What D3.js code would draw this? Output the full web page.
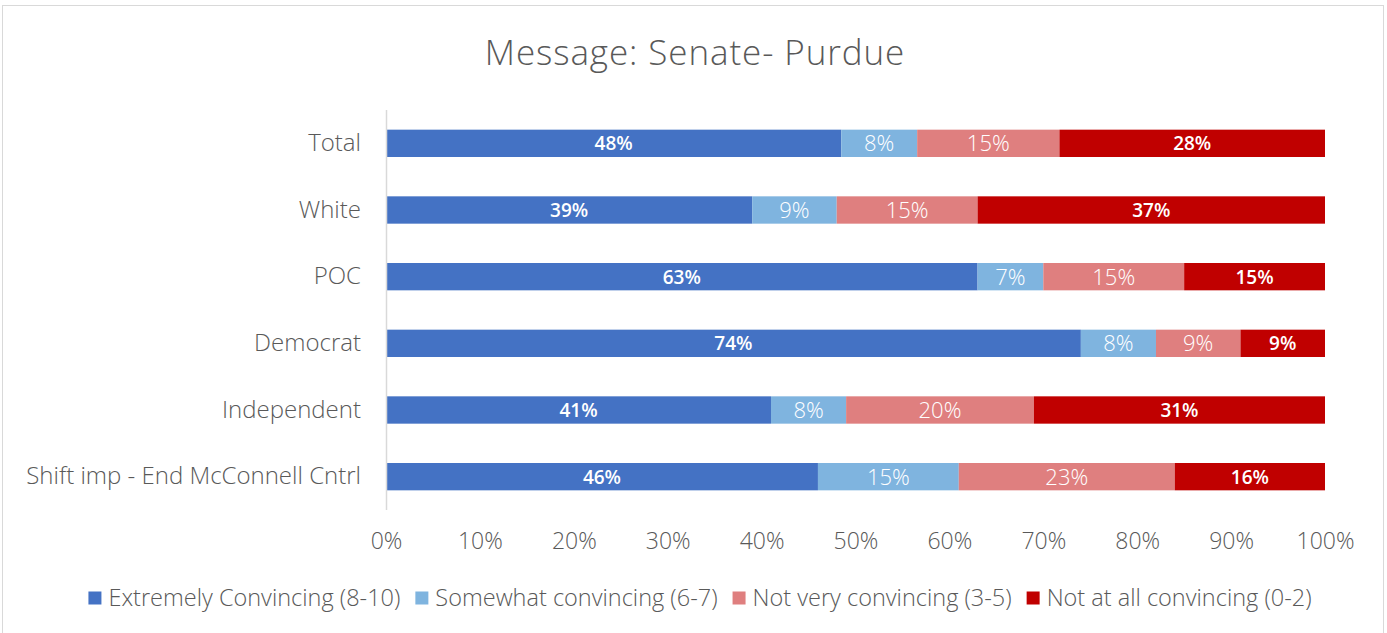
<!DOCTYPE html>
<html>
<head>
<meta charset="utf-8">
<script src="https://cdn.jsdelivr.net/npm/d3@7"></script>
<style>
  html, body { margin: 0; padding: 0; background: #fff; }
  svg { display: block; font-family: "Open Sans", Lato, sans-serif; }
</style>
</head>
<body>
<svg id="chart" width="1387" height="633"></svg>
<script>
const categories = ["Total", "White", "POC", "Democrat", "Independent", "Shift imp - End McConnell Cntrl"];
const seriesNames = ["Extremely Convincing (8-10)", "Somewhat convincing (6-7)", "Not very convincing (3-5)", "Not at all convincing (0-2)"];
const extremely = [48, 39, 63, 74, 41, 46];
const somewhat = [8, 9, 7, 8, 8, 15];
const notVery = [15, 15, 15, 9, 20, 23];
const notAtAll = [28, 37, 15, 9, 31, 16];
const tickValues = [0, 0.1, 0.2, 0.3, 0.4, 0.5, 0.6, 0.7, 0.8, 0.9, 1.0];
const colors = ["#4472C4", "#7FB4DF", "#DF7F7F", "#C00000"];
const labelBold = [true, false, false, true];

const FONT = "'Open Sans', Lato, sans-serif";
const seriesArrays = [extremely, somewhat, notVery, notAtAll];
const rows = categories.map((c, i) => {
  const r = { category: c };
  seriesNames.forEach((s, j) => r[s] = seriesArrays[j][i]);
  return r;
});

const svg = d3.select("#chart");

// chart border
svg.append("rect").attr("x", 2.5).attr("y", 5.5).attr("width", 1381).attr("height", 640)
  .attr("fill", "#fff").attr("stroke", "#d9d9d9").attr("stroke-width", 1);

// title
svg.append("text").attr("x", 695).attr("y", 65).attr("text-anchor", "middle")
  .attr("font-size", 35).attr("font-weight", 300).attr("letter-spacing", 0.9).attr("fill", "#595959")
  .text("Message: Senate- Purdue");

const x = d3.scaleLinear().domain([0, 1]).range([386, 1325]);
const y = d3.scaleBand().domain(categories).range([110, 510]).paddingInner(0.59).paddingOuter(0.295);

const stack = d3.stack().keys(seriesNames).offset(d3.stackOffsetExpand);
const stacked = stack(rows);

const g = svg.append("g");
stacked.forEach((layer, j) => {
  const lg = g.append("g");
  lg.selectAll("rect").data(layer).join("rect")
    .attr("x", d => x(d[0]))
    .attr("y", d => y(d.data.category))
    .attr("width", d => x(d[1]) - x(d[0]))
    .attr("height", y.bandwidth())
    .attr("fill", colors[j]);
  lg.selectAll("text").data(layer).join("text")
    .attr("x", d => (x(d[0]) + x(d[1])) / 2)
    .attr("y", d => y(d.data.category) + y.bandwidth() / 2)
    .attr("dy", "0.36em")
    .attr("text-anchor", "middle")
    .attr("fill", "#fff")
    .attr("font-size", labelBold[j] ? 19 : 22)
    .attr("font-weight", labelBold[j] ? 600 : 300)
    .text(d => d.data[seriesNames[j]] + "%");
});

// vertical axis line
svg.append("line").attr("x1", 386.5).attr("x2", 386.5).attr("y1", 110).attr("y2", 510)
  .attr("stroke", "#d9d9d9").attr("stroke-width", 1.5);

// category axis
const yAxis = svg.append("g").attr("transform", "translate(386,0)")
  .call(d3.axisLeft(y).tickSize(0).tickPadding(25));
yAxis.select(".domain").remove();
yAxis.selectAll("text").attr("font-size", 24).attr("font-weight", 300).attr("fill", "#595959")
  .attr("font-family", FONT);

// value axis
const xAxis = svg.append("g").attr("transform", "translate(0,510)")
  .call(d3.axisBottom(x).tickValues(tickValues).tickSize(0).tickPadding(23).tickFormat(d3.format(".0%")));
xAxis.select(".domain").remove();
xAxis.selectAll("text").attr("font-size", 23).attr("font-weight", 300).attr("fill", "#595959")
  .attr("font-family", FONT);

// legend
const legend = svg.append("g");
const items = legend.selectAll("g").data(seriesNames).join("g");
items.append("rect").attr("width", 13).attr("height", 13).attr("y", -6.5)
  .attr("fill", (d, i) => colors[i]);
items.append("text").attr("x", 20).attr("dy", "0.36em").attr("font-size", 23.5).attr("font-weight", 300)
  .attr("fill", "#595959").text(d => d);
let widths = [];
items.each(function() { widths.push(this.getBBox().width); });
const gap = 15;
const total = d3.sum(widths) + gap * (widths.length - 1);
let cx = 700 - total / 2;
items.attr("transform", (d, i) => {
  const t = `translate(${cx},598)`;
  cx += widths[i] + gap;
  return t;
});
</script>
</body>
</html>
